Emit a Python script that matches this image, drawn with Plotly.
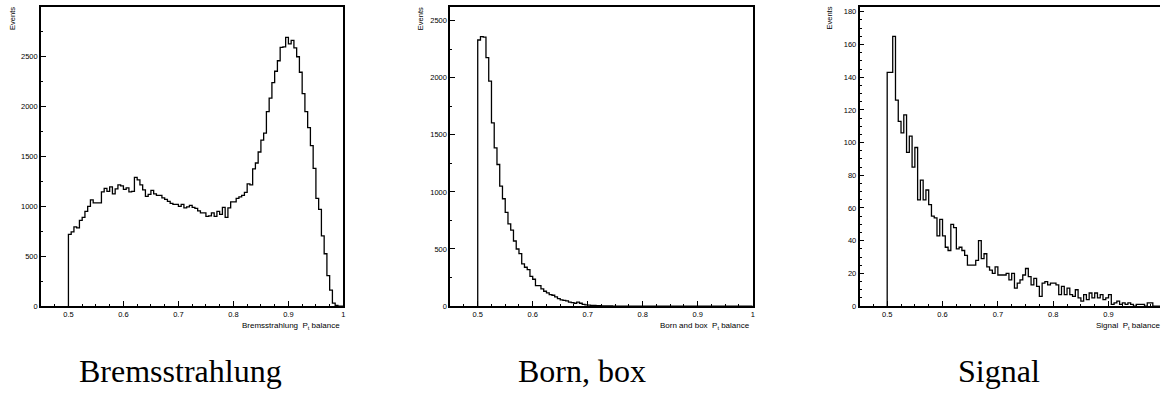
import numpy as np
import plotly.graph_objects as go

# ---------------- data ----------------
bin_start = 0.5
bin_width = 0.005

brems = [720, 745, 795, 785, 860, 890, 950, 1000, 1065, 1035,
         1035, 1035, 1145, 1180, 1150, 1195, 1125, 1175, 1215, 1205,
         1170, 1185, 1145, 1150, 1290, 1265, 1215, 1165, 1100, 1120,
         1160, 1125, 1110, 1110, 1085, 1070, 1050, 1030, 1020, 1020,
         1000, 1020, 985, 995, 1010, 990, 980, 955, 935, 935,
         900, 905, 935, 900, 950, 920, 990, 890, 985, 1045,
         1045, 1080, 1095, 1110, 1140, 1225, 1215, 1375, 1435, 1545,
         1665, 1735, 1950, 2085, 2240, 2355, 2460, 2595, 2600, 2695,
         2630, 2665, 2590, 2500, 2345, 2130, 1950, 1790, 1610, 1380,
         1080, 970, 705, 525, 305, 160, 30, 8, 0, 0]

born = [2330, 2360, 2355, 2175, 1970, 1605, 1385, 1240, 1050, 940,
        820, 720, 665, 570, 500, 460, 370, 340, 320, 260,
        235, 180, 180, 150, 130, 115, 100, 95, 80, 65,
        55, 50, 45, 35, 30, 25, 35, 25, 15, 10,
        8, 5, 5, 4, 3, 2, 2, 1, 1, 0] + [0] * 50

signal = [143, 143, 165, 126, 113, 106, 117, 94, 104, 85,
          97, 65, 77, 65, 71, 62, 55, 54, 43, 53,
          43, 36, 34, 50, 48, 35, 36, 34, 31, 25,
          25, 25, 28, 40, 29, 32, 24, 22, 20, 24,
          19, 19, 19, 20, 16, 20, 11, 14, 16, 19,
          23, 18, 13, 17, 12, 6, 14, 15, 13, 14,
          14, 13, 7, 12, 7, 11, 7, 6, 10, 5,
          3, 7, 4, 8, 5, 8, 5, 7, 4, 5,
          7, 1, 2, 3, 1, 2, 1, 2, 1, 0,
          1, 1, 1, 0, 2, 2, 0, 0, 0, 0]

x_titles = ["Bremsstrahlung  P<sub>t</sub> balance",
            "Born and box  P<sub>t</sub> balance",
            "Signal  P<sub>t</sub> balance"]
captions = ["Bremsstrahlung", "Born, box", "Signal"]
y_label = "Events"

x_tickvals = [0.5, 0.6, 0.7, 0.8, 0.9, 1.0]
x_ticktext = ["0.5", "0.6", "0.7", "0.8", "0.9", "1"]
y_tickvals = [[0, 500, 1000, 1500, 2000, 2500],
              [0, 500, 1000, 1500, 2000, 2500],
              [0, 20, 40, 60, 80, 100, 120, 140, 160, 180]]
y_minor = [250, 250, 5]
y_ranges = [[0, 3000], [0, 2620], [0, 183]]
x_ranges = [[0.45, 1.0], [0.45, 1.0], [0.45, 0.993]]

# ---------------- figure ----------------
W, H = 1162, 396
def px_x(p):
    return p / W
def px_y(p):
    return 1 - p / H

x_domains = [[px_x(41), px_x(344)], [px_x(451), px_x(754)], [px_x(861), 1.0]]
y_domain = [px_y(310), px_y(7)]

fig = go.Figure()
series = [brems, born, signal]
tick_font = dict(family="Liberation Sans, Arial, sans-serif", size=7.5, color="black")

for i, vals in enumerate(series):
    n = len(vals)
    edges = bin_start + bin_width * np.arange(n + 1)
    xs = [edges[0]] + list(edges[:-1]) + [edges[-1]]
    ys = [0] + list(vals) + [0]
    sfx = "" if i == 0 else str(i + 1)
    fig.add_trace(go.Scatter(
        x=xs, y=ys, mode="lines", line=dict(color="black", width=1.3, shape="hv"),
        xaxis="x" + sfx, yaxis="y" + sfx, showlegend=False, hoverinfo="skip"))

    fig.layout["xaxis" + sfx] = dict(
        domain=x_domains[i], anchor="y" + sfx, range=x_ranges[i],
        showline=True, linecolor="black", linewidth=1.5, mirror=True,
        ticks="inside", ticklen=5, tickwidth=1, tickcolor="black",
        tickvals=x_tickvals, ticktext=x_ticktext, tickfont=tick_font,
        minor=dict(ticks="inside", ticklen=2.5, tickwidth=1, tickcolor="black",
                   tick0=0.45, dtick=0.025, showgrid=False),
        showgrid=False, zeroline=False, fixedrange=True)
    fig.layout["yaxis" + sfx] = dict(
        domain=y_domain, anchor="x" + sfx, range=y_ranges[i],
        showline=True, linecolor="black", linewidth=1.5, mirror=(i < 2),
        ticks="inside", ticklen=5, tickwidth=1, tickcolor="black",
        tickvals=y_tickvals[i], tickfont=tick_font,
        minor=dict(ticks="inside", ticklen=2.5, tickwidth=1, tickcolor="black",
                   tick0=0, dtick=y_minor[i], showgrid=False),
        showgrid=False, zeroline=False, fixedrange=True)

annotations = []
# x-axis titles
annotations.append(dict(text=x_titles[0], x=px_x(343), y=px_y(330), xanchor="right",
                        yanchor="middle"))
annotations.append(dict(text=x_titles[1], x=px_x(753), y=px_y(330), xanchor="right",
                        yanchor="middle"))
annotations.append(dict(text=x_titles[2], x=px_x(1096), y=px_y(330), xanchor="left",
                        yanchor="middle"))
for a in annotations:
    a.update(xref="paper", yref="paper", showarrow=False,
             font=dict(family="Liberation Sans, Arial, sans-serif", size=8, color="black"))

# "Events" labels
for xc in [12.5, 421.5, 830.5]:
    annotations.append(dict(text=y_label, x=px_x(xc), y=px_y(5), xanchor="center",
                            yanchor="top", textangle=-90, xref="paper", yref="paper",
                            showarrow=False,
                            font=dict(family="Liberation Sans, Arial, sans-serif",
                                      size=7.5, color="black")))

# captions
for cx, txt in zip([181, 583, 1001], captions):
    annotations.append(dict(text=txt, x=px_x(cx), y=px_y(376), xanchor="center",
                            yanchor="middle", xref="paper", yref="paper",
                            showarrow=False,
                            font=dict(family="Liberation Serif, Times New Roman, serif",
                                      size=32, color="black")))

fig.update_layout(
    width=W, height=H, margin=dict(l=0, r=0, t=0, b=0),
    paper_bgcolor="white", plot_bgcolor="white",
    annotations=annotations, showlegend=False)

fig.write_html("out.html", config={"displayModeBar": False})
